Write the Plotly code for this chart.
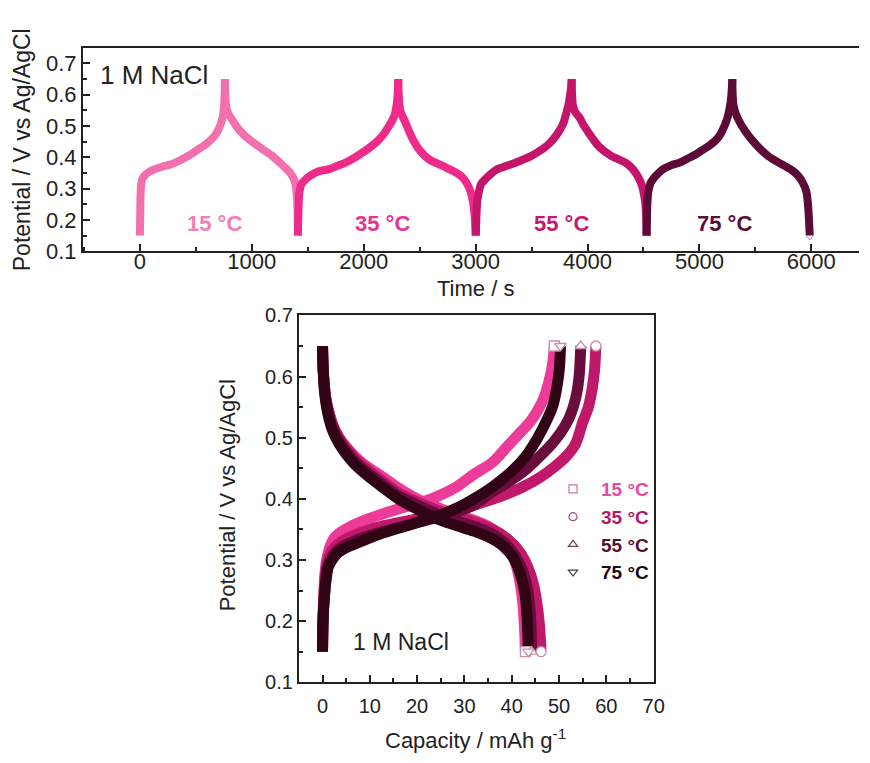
import plotly.graph_objects as go

# ---------------- data ----------------
temps = ["15 °C", "35 °C", "55 °C", "75 °C"]

# ---- bottom panel: capacity (mAh/g) vs potential (V) ----
cap_ch_15 = [0, 0.1, 0.3, 0.6, 1, 1.6, 2.5, 4, 6, 9, 13, 18, 23, 28, 32, 36, 39, 42, 44, 45.5, 46.8, 47.8, 48.4, 48.8, 49]
v_ch_15 = [0.15, 0.2, 0.25, 0.285, 0.305, 0.322, 0.336, 0.346, 0.355, 0.365, 0.376, 0.388, 0.40, 0.418, 0.44, 0.46, 0.485, 0.51, 0.527, 0.545, 0.565, 0.59, 0.61, 0.63, 0.65]
cap_ch_35 = [0, 0.1, 0.3, 0.6, 1, 1.6, 2.5, 4, 6, 9, 13, 18, 23, 28, 33, 38, 42, 46, 49, 51.6, 53.5, 55, 56.2, 57, 57.5, 57.8]
v_ch_35 = [0.15, 0.2, 0.24, 0.275, 0.295, 0.31, 0.32, 0.33, 0.338, 0.347, 0.356, 0.364, 0.372, 0.38, 0.392, 0.405, 0.418, 0.435, 0.452, 0.47, 0.49, 0.525, 0.55, 0.58, 0.61, 0.65]
cap_ch_55 = [0, 0.1, 0.4, 0.8, 1.2, 2, 3, 5, 8, 12, 17, 22, 27, 32, 35.6, 39, 43, 46, 48.5, 50.5, 52, 53, 53.8, 54.3, 54.6]
v_ch_55 = [0.15, 0.2, 0.24, 0.275, 0.292, 0.305, 0.315, 0.325, 0.335, 0.345, 0.355, 0.365, 0.375, 0.39, 0.41, 0.426, 0.448, 0.47, 0.49, 0.51, 0.53, 0.55, 0.575, 0.605, 0.65]
cap_ch_75 = [0, 0.1, 0.4, 0.8, 1.2, 2, 3, 5, 8, 12, 17, 22, 26, 29, 32, 36, 40, 43, 45.5, 47.5, 48.8, 49.6, 50.1, 50.3]
v_ch_75 = [0.15, 0.2, 0.24, 0.27, 0.288, 0.30, 0.31, 0.32, 0.33, 0.342, 0.354, 0.366, 0.377, 0.387, 0.40, 0.42, 0.445, 0.47, 0.50, 0.53, 0.555, 0.585, 0.615, 0.65]

cap_dis_15 = [0, 0.05, 0.15, 0.4, 0.8, 1.4, 2.2, 3.5, 5, 7, 9.5, 12.5, 16, 20, 24, 28, 32, 35, 37.5, 39.5, 40.8, 41.8, 42.4, 42.7, 42.9]
v_dis_15 = [0.65, 0.63, 0.61, 0.585, 0.56, 0.54, 0.52, 0.50, 0.485, 0.468, 0.452, 0.437, 0.418, 0.40, 0.387, 0.375, 0.365, 0.355, 0.34, 0.32, 0.295, 0.262, 0.225, 0.19, 0.15]
cap_dis_35 = [0, 0.05, 0.15, 0.4, 0.8, 1.4, 2.2, 3.5, 5, 7, 9.5, 12.5, 16, 20, 24, 28, 32, 36, 39, 41.5, 43.3, 44.6, 45.4, 45.9, 46.2]
v_dis_35 = [0.65, 0.63, 0.61, 0.585, 0.56, 0.54, 0.52, 0.50, 0.483, 0.465, 0.448, 0.43, 0.41, 0.395, 0.382, 0.372, 0.362, 0.35, 0.335, 0.315, 0.29, 0.26, 0.225, 0.19, 0.15]
cap_dis_55 = [0, 0.05, 0.15, 0.4, 0.8, 1.4, 2.2, 3.5, 5, 7, 9.5, 12.5, 16, 20, 24, 28, 32, 35.5, 38.5, 40.8, 42.4, 43.4, 43.9, 44.1, 44.2]
v_dis_55 = [0.65, 0.63, 0.61, 0.58, 0.556, 0.535, 0.515, 0.495, 0.478, 0.46, 0.443, 0.425, 0.405, 0.39, 0.376, 0.365, 0.355, 0.344, 0.328, 0.306, 0.28, 0.25, 0.215, 0.185, 0.15]
cap_dis_75 = [0, 0.05, 0.15, 0.4, 0.8, 1.4, 2.2, 3.5, 5, 7, 9.5, 12.5, 16, 20, 24, 28, 32, 35.5, 38.3, 40.4, 41.9, 42.8, 43.2, 43.4, 43.5]
v_dis_75 = [0.65, 0.63, 0.61, 0.578, 0.553, 0.53, 0.51, 0.49, 0.473, 0.455, 0.438, 0.42, 0.40, 0.383, 0.368, 0.357, 0.347, 0.336, 0.322, 0.303, 0.275, 0.245, 0.21, 0.18, 0.15]

# ---- top panel: time (s) vs potential (V) ----
t_ch_15 = [0, 3, 6, 12, 25, 50, 90, 132, 200, 279, 340, 397, 460, 515, 575, 632, 675, 706, 730, 745, 753, 757, 760]
vt_ch_15 = [0.15, 0.22, 0.28, 0.315, 0.333, 0.345, 0.355, 0.362, 0.37, 0.378, 0.387, 0.398, 0.41, 0.424, 0.438, 0.455, 0.472, 0.492, 0.515, 0.54, 0.57, 0.60, 0.65]
t_dis_15 = [760, 763, 770, 790, 825, 867, 920, 985, 1040, 1103, 1180, 1250, 1300, 1338, 1370, 1390, 1402, 1408, 1411, 1412]
vt_dis_15 = [0.65, 0.60, 0.565, 0.54, 0.52, 0.497, 0.475, 0.455, 0.44, 0.424, 0.405, 0.383, 0.366, 0.352, 0.335, 0.315, 0.28, 0.24, 0.20, 0.15]
t_ch_35 = [1412, 1416, 1420, 1426, 1445, 1486, 1530, 1574, 1630, 1691, 1760, 1838, 1910, 1985, 2060, 2132, 2180, 2221, 2255, 2279, 2295, 2303, 2309]
vt_ch_35 = [0.15, 0.22, 0.26, 0.29, 0.315, 0.331, 0.343, 0.352, 0.358, 0.362, 0.372, 0.383, 0.397, 0.414, 0.433, 0.455, 0.475, 0.497, 0.518, 0.538, 0.57, 0.60, 0.65]
t_dis_35 = [2309, 2313, 2320, 2335, 2368, 2410, 2450, 2484, 2545, 2600, 2660, 2720, 2800, 2870, 2920, 2955, 2978, 2992, 3000]
vt_dis_35 = [0.65, 0.60, 0.565, 0.54, 0.515, 0.48, 0.45, 0.43, 0.405, 0.39, 0.38, 0.37, 0.356, 0.34, 0.318, 0.29, 0.255, 0.21, 0.15]
t_ch_55 = [3002, 3008, 3015, 3029, 3050, 3088, 3140, 3191, 3230, 3279, 3350, 3426, 3490, 3544, 3605, 3661, 3710, 3750, 3785, 3808, 3828, 3840, 3852, 3859]
vt_ch_55 = [0.15, 0.22, 0.26, 0.29, 0.315, 0.331, 0.348, 0.362, 0.367, 0.373, 0.382, 0.393, 0.403, 0.414, 0.428, 0.445, 0.465, 0.486, 0.51, 0.538, 0.565, 0.59, 0.62, 0.65]
t_dis_55 = [3859, 3862, 3870, 3890, 3927, 3970, 4015, 4060, 4103, 4160, 4221, 4280, 4339, 4390, 4427, 4460, 4486, 4505, 4518, 4524, 4528]
vt_dis_55 = [0.65, 0.60, 0.565, 0.545, 0.528, 0.50, 0.476, 0.453, 0.434, 0.417, 0.403, 0.393, 0.383, 0.368, 0.352, 0.332, 0.31, 0.28, 0.248, 0.20, 0.15]
t_ch_75 = [4528, 4532, 4536, 4543, 4560, 4587, 4630, 4676, 4750, 4823, 4900, 4970, 5029, 5090, 5147, 5190, 5220, 5245, 5265, 5280, 5288, 5294]
vt_ch_75 = [0.15, 0.22, 0.26, 0.29, 0.315, 0.331, 0.348, 0.362, 0.375, 0.383, 0.397, 0.41, 0.424, 0.438, 0.455, 0.475, 0.497, 0.52, 0.548, 0.58, 0.61, 0.65]
t_dis_75 = [5294, 5297, 5305, 5325, 5353, 5410, 5471, 5540, 5618, 5690, 5765, 5830, 5883, 5925, 5956, 5970, 5979, 5986]
vt_dis_75 = [0.65, 0.60, 0.565, 0.54, 0.517, 0.483, 0.455, 0.428, 0.403, 0.387, 0.372, 0.358, 0.341, 0.318, 0.29, 0.25, 0.20, 0.15]

cap_ch = [cap_ch_15, cap_ch_35, cap_ch_55, cap_ch_75]
v_ch = [v_ch_15, v_ch_35, v_ch_55, v_ch_75]
cap_dis = [cap_dis_15, cap_dis_35, cap_dis_55, cap_dis_75]
v_dis = [v_dis_15, v_dis_35, v_dis_55, v_dis_75]
t_ch = [t_ch_15, t_ch_35, t_ch_55, t_ch_75]
vt_ch = [vt_ch_15, vt_ch_35, vt_ch_55, vt_ch_75]
t_dis = [t_dis_15, t_dis_35, t_dis_55, t_dis_75]
vt_dis = [vt_dis_15, vt_dis_35, vt_dis_55, vt_dis_75]

time_ticks = [0, 1000, 2000, 3000, 4000, 5000, 6000]
pot_ticks_top = [0.1, 0.2, 0.3, 0.4, 0.5, 0.6, 0.7]
cap_ticks = [0, 10, 20, 30, 40, 50, 60, 70]

# ---------------- styling ----------------
top_colors = ["#f270ae", "#ee2a8a", "#c4146c", "#5c0a36"]
top_label_colors = ["#f27cb3", "#e8348e", "#c41a70", "#5c0a36"]
bot_colors = ["#ec3c98", "#c0186a", "#6a0c3c", "#300414"]
leg_text_colors = ["#e8489e", "#b41a62", "#561030", "#200810"]
leg_marker_colors = ["#c878a0", "#a05080", "#704060", "#404040"]
symbols = ["square-open", "circle-open", "triangle-up-open", "triangle-down-open"]
FONT = "Liberation Sans, Arial, sans-serif"
W, H = 870, 763
SPL = dict(shape="spline", smoothing=0.8)

fig = go.Figure()

# top panel traces
for i in range(4):
    for tx, vy in ((t_ch[i], vt_ch[i]), (t_dis[i], vt_dis[i])):
        fig.add_trace(go.Scatter(
            x=tx, y=vy, mode="lines", line=dict(color=top_colors[i], width=8, **SPL),
            xaxis="x", yaxis="y", showlegend=False, hoverinfo="skip"))
fig.add_trace(go.Scatter(x=[t_dis_75[-1]], y=[vt_dis_75[-1] - 0.005], mode="markers",
                         marker=dict(symbol="triangle-down-open", size=6, color="#b090a0"),
                         xaxis="x", yaxis="y", showlegend=False, hoverinfo="skip"))

# bottom panel traces
for i in range(4):
    for cx, vy in ((cap_ch[i], v_ch[i]), (cap_dis[i], v_dis[i])):
        fig.add_trace(go.Scatter(
            x=cx, y=vy, mode="lines", line=dict(color=bot_colors[i], width=11, **SPL),
            xaxis="x2", yaxis="y2", showlegend=False, hoverinfo="skip"))
for i in range(4):
    for cx, vy in ((cap_ch[i], v_ch[i]), (cap_dis[i], v_dis[i])):
        fig.add_trace(go.Scatter(
            x=[cx[-1]], y=[vy[-1]], mode="markers",
            marker=dict(symbol=symbols[i].replace("-open", ""), size=10, color="white",
                        line=dict(width=1.3, color="#c890ac")),
            xaxis="x2", yaxis="y2", showlegend=False, hoverinfo="skip"))

# legend entries
for i in range(4):
    fig.add_trace(go.Scatter(
        x=[None], y=[None], mode="markers", xaxis="x2", yaxis="y2",
        marker=dict(symbol=symbols[i], size=8, color=leg_marker_colors[i], line=dict(width=1.2)),
        name=f"<span style='color:{leg_text_colors[i]}'><b>{temps[i]}</b></span>"))

minor_style = dict(ticks="inside", ticklen=4, tickcolor="#222", tickwidth=1.5)
axis_common = dict(showline=True, linecolor="#222", linewidth=2, ticks="inside",
                   tickcolor="#222", tickwidth=1.5, ticklen=7, showgrid=False, zeroline=False)

fig.update_layout(
    width=W, height=H, margin=dict(l=0, r=0, t=0, b=0),
    paper_bgcolor="white", plot_bgcolor="white",
    font=dict(family=FONT, color="#222"),
    xaxis=dict(domain=[84 / W, 1.0], range=[-509, 6426], tickvals=time_ticks,
               mirror=True, anchor="y", ticklabelstandoff=-11,
               tickfont=dict(family=FONT, size=22, color="#222"),
               minor=dict(dtick=500, **minor_style), **axis_common),
    yaxis=dict(domain=[1 - 248 / H, 1 - 38 / H], range=[0.1, 0.75], tickvals=pot_ticks_top,
               tickformat=".1f", anchor="x",
               tickfont=dict(family=FONT, size=22, color="#222"),
               minor=dict(dtick=0.05, **minor_style), **axis_common),
    xaxis2=dict(domain=[302.7 / W, 662 / W], range=[-5, 70], tickvals=cap_ticks,
                mirror=True, anchor="y2", ticklabelstandoff=5,
                tickfont=dict(family=FONT, size=20, color="#222"),
                minor=dict(dtick=5, **minor_style), **axis_common),
    yaxis2=dict(domain=[1 - 693 / H, 1 - 314.3 / H], range=[0.1, 0.7], dtick=0.1,
                tickformat=".1f", mirror=True, anchor="x2",
                tickfont=dict(family=FONT, size=20, color="#222"),
                minor=dict(dtick=0.05, **minor_style), **axis_common),
    legend=dict(x=552 / W, y=1 - 474 / H, xanchor="left", yanchor="top",
                bgcolor="rgba(0,0,0,0)", font=dict(family=FONT, size=19),
                itemwidth=46, tracegroupgap=0),
    showlegend=True,
)

ann = []
ann.append(dict(text="Potential / V vs Ag/AgCl", x=22 / W, y=1 - 143 / H, textangle=-90,
                font=dict(size=23)))
ann.append(dict(text="Time / s", x=482 / W, y=1 - 287 / H, font=dict(size=22)))
ann.append(dict(text="Potential / V vs Ag/AgCl", x=230 / W, y=1 - 500 / H, textangle=-90,
                font=dict(size=22)))
ann.append(dict(text="Capacity / mAh g<sup>-1</sup>", x=482 / W, y=1 - 752 / H,
                font=dict(size=22)))
ann.append(dict(text="1 M NaCl", x=156 / W, y=1 - 66 / H, font=dict(size=26)))
ann.append(dict(text="1 M NaCl", x=406 / W, y=1 - 652 / H, font=dict(size=23)))
label_x = [217, 387, 569, 734]
for i in range(4):
    ann.append(dict(text=f"<b>{temps[i]}</b>", x=label_x[i] / W, y=1 - 219 / H,
                    font=dict(size=22, color=top_label_colors[i])))
for a in ann:
    a.update(xref="paper", yref="paper", showarrow=False, xanchor="center", yanchor="middle")
    a["font"] = {"family": FONT, "color": "#222", **a["font"]}
fig.update_layout(annotations=ann)

fig.write_html("out.html")
